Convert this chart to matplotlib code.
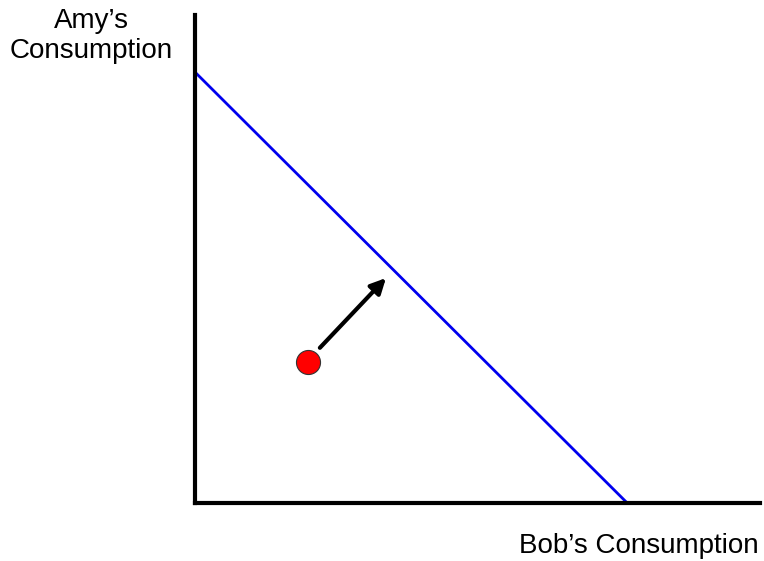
import matplotlib.pyplot as plt

plt.rcParams['font.family'] = ['Liberation Sans', 'DejaVu Sans']

# budget line endpoints (Bob, Amy)
line_x = [0.0, 7.65]
line_y = [8.83, 0.0]

# current allocation and direction of improvement
point_x = [2.0]
point_y = [2.89]
arrow_start = (2.21, 3.18)
arrow_end = (3.38, 4.61)

fig = plt.figure(figsize=(7.64, 5.61), dpi=100)
ax = fig.add_axes([195 / 764, 58 / 561, 565 / 764, 488 / 561])
ax.set_xlim(0, 10)
ax.set_ylim(0, 10)

ax.plot(line_x, line_y, color='#0000ee', lw=2, solid_capstyle='butt', clip_on=False)
ax.annotate('', xy=arrow_end, xytext=arrow_start,
            arrowprops=dict(arrowstyle='-|>,head_length=0.9,head_width=0.45',
                            color='black', lw=3, shrinkA=0, shrinkB=0))
ax.scatter(point_x, point_y, s=300, color='red', edgecolors='#333333',
           linewidths=0.8, zorder=5)

for side in ['top', 'right']:
    ax.spines[side].set_visible(False)
for side in ['left', 'bottom']:
    ax.spines[side].set_linewidth(3)
ax.set_xticks([])
ax.set_yticks([])

fig.text(91 / 764, 1 - 36 / 561, "Amy’s\nConsumption", ha='center', va='center',
         fontsize=20, linespacing=1.25)
fig.text(759 / 764, 1 - 546 / 561, "Bob’s Consumption", ha='right', va='center',
         fontsize=20)

fig.savefig('out.png', dpi=100)
